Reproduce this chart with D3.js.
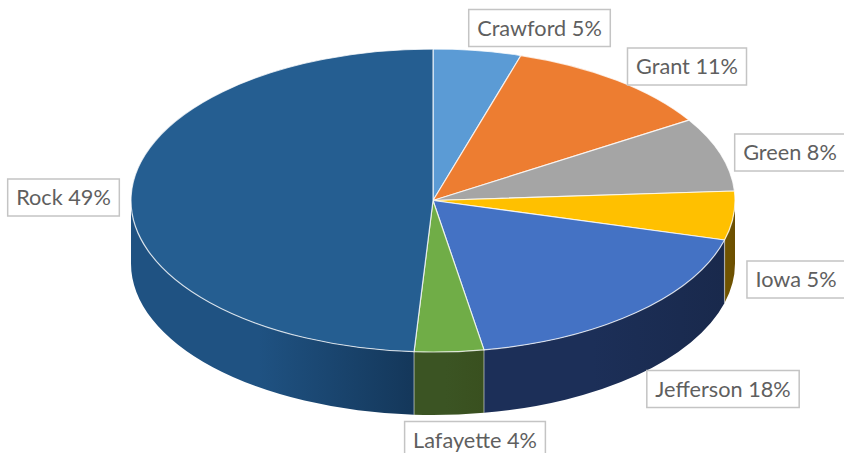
<!DOCTYPE html>
<html>
<head>
<meta charset="utf-8">
<script src="https://cdn.jsdelivr.net/npm/d3@7"></script>
<style>
html, body { margin: 0; padding: 0; background: #fff; overflow: hidden; }
text { font-family: Lato, "Open Sans", sans-serif; }
</style>
</head>
<body>
<script>
const counties = ['Crawford', 'Grant', 'Green', 'Iowa', 'Jefferson', 'Lafayette', 'Rock'];
const shares = [4.7, 11.4, 7.9, 5.2, 18.1, 3.7, 49];
const topColors = ['#5b9bd5', '#ed7d31', '#a5a5a5', '#ffc000', '#4472c4', '#70ad47', '#255e91'];
const wallFrom = ['#3a6d9c', '#a3531f', '#6b6b6b', '#6f5300', '#1c2f58', '#3b5423', '#1f5282'];
const wallTo = ['#3a6d9c', '#a3531f', '#6b6b6b', '#6b4e00', '#19294c', '#39501f', '#14375a'];
// label box centres, px
const labelX = [539.5, 687, 790, 796, 723, 475, 63.5];
const labelY = [28, 66.5, 152.5, 279.5, 389, 440, 197.5];

const width = 844, height = 453, depth = 63;

const svg = d3.select('body').append('svg')
    .attr('width', width)
    .attr('height', height)
    .style('display', 'block');

const sx = d3.scaleLinear().domain([-1, 1]).range([131, 735]);
const sy = d3.scaleLinear().domain([-1, 1]).range([49, 352]);
const rx = (sx(1) - sx(-1)) / 2;
const ry = (sy(1) - sy(-1)) / 2;

const arcs = d3.pie().sort(null).value((d) => d)(shares);

// angle 0 is straight up, clockwise
const px = (a) => sx(Math.sin(a));
const py = (a) => sy(-Math.cos(a));

function topPath(d) {
    const large = d.endAngle - d.startAngle > Math.PI ? 1 : 0;
    return `M${sx(0)},${sy(0)}L${px(d.startAngle)},${py(d.startAngle)}`
        + `A${rx},${ry} 0 ${large} 1 ${px(d.endAngle)},${py(d.endAngle)}Z`;
}

function wallPath(d) {
    const a0 = Math.max(d.startAngle, Math.PI / 2);
    const a1 = Math.min(d.endAngle, Math.PI * 1.5);
    if (a1 <= a0) return null;
    return `M${px(a0)},${py(a0)}A${rx},${ry} 0 0 1 ${px(a1)},${py(a1)}`
        + `L${px(a1)},${py(a1) + depth}A${rx},${ry} 0 0 0 ${px(a0)},${py(a0) + depth}Z`;
}

const defs = svg.append('defs');
arcs.forEach((d, i) => {
    // walls run right to left along the front of the disc
    const grad = defs.append('linearGradient').attr('id', `wall${i}`);
    grad.append('stop').attr('offset', '0%').attr('stop-color', wallFrom[i]);
    grad.append('stop').attr('offset', '45%').attr('stop-color', wallFrom[i]);
    grad.append('stop').attr('offset', '100%').attr('stop-color', wallTo[i]);
});

svg.append('g').selectAll('path')
    .data(arcs.filter((d) => wallPath(d)))
    .join('path')
    .attr('d', wallPath)
    .attr('fill', (d) => `url(#wall${d.index})`)
    .attr('stroke', 'none');

// pale seams where the walls meet
svg.append('g').selectAll('line')
    .data(arcs.filter((d) => d.endAngle < Math.PI * 1.5 && d.endAngle > Math.PI / 2))
    .join('line')
    .attr('x1', (d) => px(d.endAngle))
    .attr('x2', (d) => px(d.endAngle))
    .attr('y1', (d) => py(d.endAngle))
    .attr('y2', (d) => py(d.endAngle) + depth)
    .attr('stroke', '#fff')
    .attr('stroke-opacity', 0.45)
    .attr('stroke-width', 1.2);

svg.append('g').selectAll('path')
    .data(arcs)
    .join('path')
    .attr('d', topPath)
    .attr('fill', (d) => topColors[d.index])
    .attr('stroke', '#fff')
    .attr('stroke-opacity', 0.75)
    .attr('stroke-width', 1.2)
    .attr('stroke-linejoin', 'round');

const fmt = d3.format('.0f');
const labels = svg.append('g').selectAll('g')
    .data(counties)
    .join('g')
    .attr('transform', (d, i) => `translate(${labelX[i]},${labelY[i]})`);

const labelText = labels.append('text')
    .attr('text-anchor', 'middle')
    .attr('dy', '0.35em')
    .attr('font-size', 21.7)
    .attr('fill', '#5f5f5f')
    .text((d, i) => `${d} ${fmt(shares[i])}%`);

labels.insert('rect', 'text')
    .each(function (d, i) {
        const w = labelText.nodes()[i].getComputedTextLength() + 17;
        d3.select(this)
            .attr('x', -w / 2)
            .attr('y', -18.5)
            .attr('width', w)
            .attr('height', 37);
    })
    .attr('fill', '#fff')
    .attr('stroke', '#c4c4c4')
    .attr('stroke-width', 1.5);
</script>
</body>
</html>
